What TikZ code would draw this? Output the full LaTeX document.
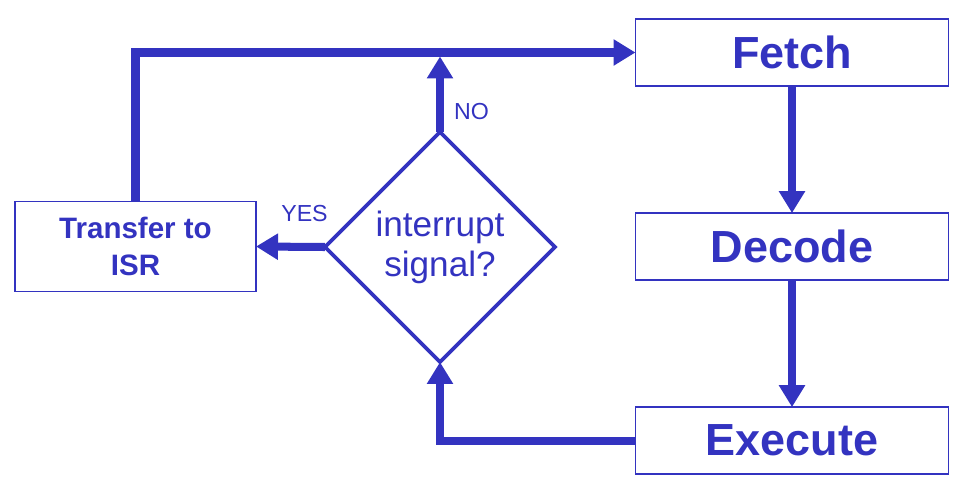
\documentclass[tikz,border=0pt]{standalone}
\usepackage{fontspec}
\setmainfont{Liberation Sans}
\usetikzlibrary{positioning, shapes.geometric, arrows.meta}
\definecolor{flowblue}{RGB}{51,51,192}

\begin{document}
\begin{tikzpicture}[x=0.025cm, y=-0.025cm, node distance=3.175cm,
    every node/.style={text=flowblue},
    stage/.style={draw=flowblue, line width=1.3pt, outer sep=0pt,
      minimum width=7.825cm, minimum height=1.675cm,
      font=\fontsize{32}{36}\selectfont\bfseries},
    handler/.style={draw=flowblue, line width=1.3pt, outer sep=0pt,
      minimum width=6.025cm, minimum height=2.25cm, align=center,
      font=\fontsize{21}{26.5}\selectfont\bfseries},
    decision/.style={diamond, aspect=1, draw=flowblue, line width=2.6pt,
      outer sep=0pt, inner sep=0pt, minimum width=5.75cm,
      minimum height=5.75cm, align=center,
      font=\fontsize{25}{28.5}\selectfont},
    answer/.style={font=\fontsize{16.5}{18}\selectfont},
    flow/.style={draw=flowblue, line width=5.7pt,
      -{Triangle[length=15.6pt, width=17.8pt, fill=flowblue]}}]
  \useasboundingbox (0,0) rectangle (966,496);

  \node[stage] (fetch) at (792,52.5) {Fetch};
  \node[stage, below=of fetch] (decode) {Decode};
  \node[stage, below=of decode] (exec) {Execute};
  \node[decision] (irq) at (440,247) {interrupt\\signal?};
  \node[handler] (isr) at (135.5,246.5) {Transfer to\\ISR};

  \node[answer] (no) at (471.5,112) {NO};
  \node[answer] (yes) at (304.5,214) {YES};

  \draw[flow] (fetch.south) -- (decode.north);
  \draw[flow] (decode.south) -- (exec.north);
  \draw[flow] (exec.west) -| (irq.south);
  \draw[flow] (irq.west) -- (isr.east);
  \draw[flow, shorten >=2.85pt] (irq.north) -- (irq.north |- fetch.west);
  \draw[flow] (isr.north) |- (fetch.west);
\end{tikzpicture}
\end{document}
